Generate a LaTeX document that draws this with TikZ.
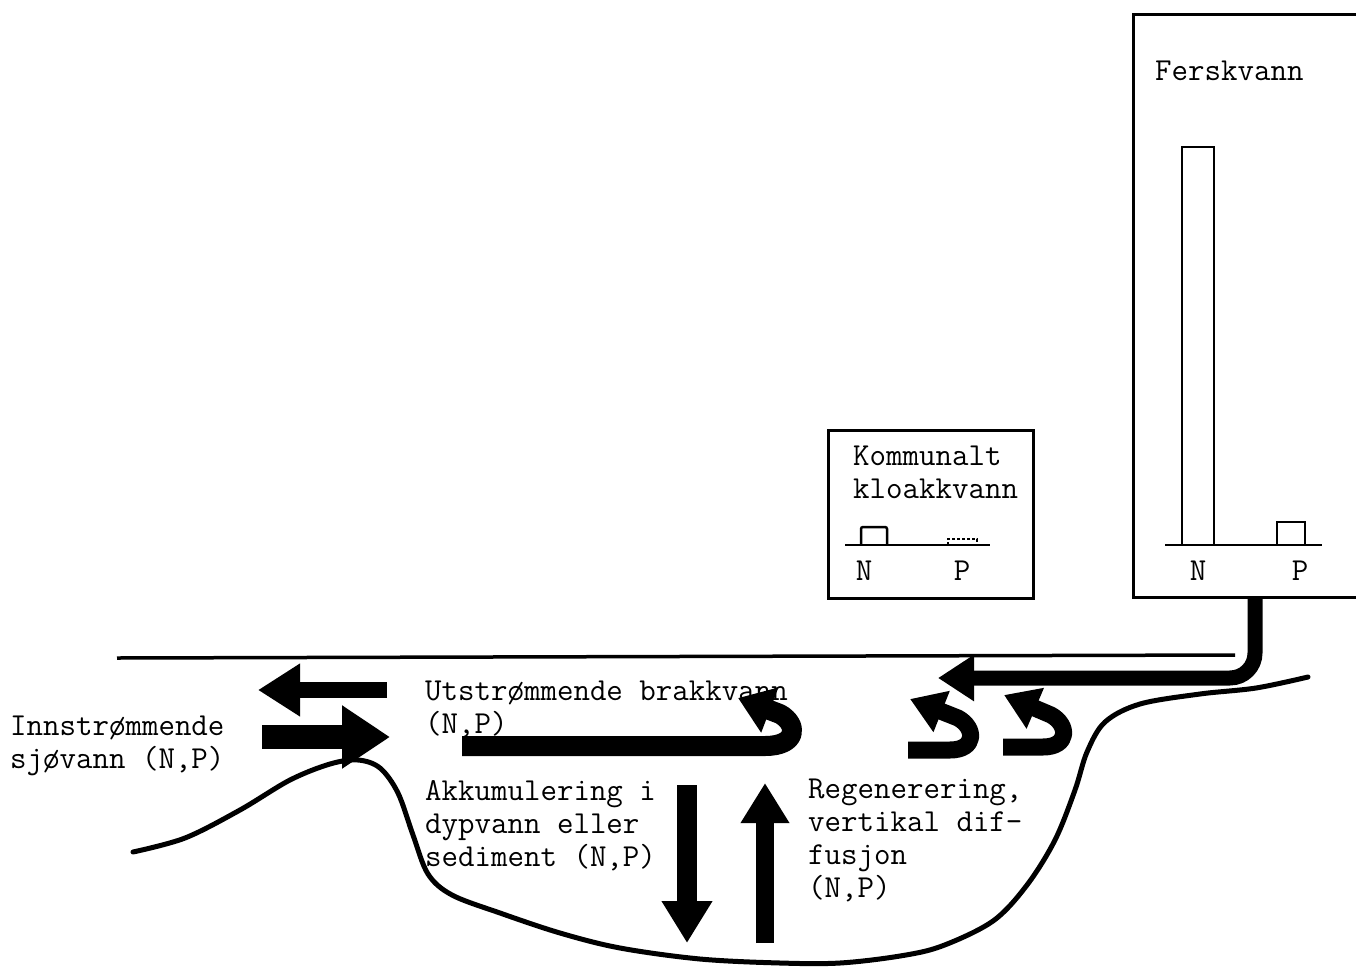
\documentclass[tikz,border=0pt]{standalone}
\usetikzlibrary{arrows.meta}
\begin{document}
\begin{tikzpicture}[x=1pt,y=-1pt,
  txt/.style={font=\ttfamily\fontsize{32}{33}\selectfont, align=left, anchor=base west, inner sep=0pt},
  lbl/.style={font=\ttfamily\fontsize{32}{33}\selectfont, anchor=base, inner sep=0pt},
  frame/.style={line width=3pt},
  bar/.style={line width=2.5pt},
  shore/.style={line width=5pt, line cap=round, line join=round},
  flow/.style={line width=#1, line join=round}
]
\useasboundingbox (0,0) rectangle (1356,966);

% Ferskvann box
\draw[frame] (1380,597) -- (1133,597) -- (1133,15) -- (1380,15);
\node[txt] (fersk) at (1155,80) {Ferskvann};
\draw[bar] (1182,545) -- (1182,147) -- (1214,147) -- (1214,545);
\draw[bar] (1165,545) -- (1322,545);
\draw[bar] (1277,545) -- (1277,522) -- (1305,522) -- (1305,545);
\node[lbl] (fN) at (1198,580) {N};
\node[lbl] (fP) at (1300,580) {P};

% Kommunalt box
\draw[frame] (828,430) rectangle (1033,598);
\node[txt] (kom) at (853,498) {Kommunalt\\kloakkvann};
\draw[bar] (845,545) -- (990,545);
\draw[bar, rounded corners=2pt] (861,545) -- (861,527) -- (887,527) -- (887,545);
\draw[line width=1.8pt, densely dashed] (948,545) -- (948,539) -- (977,539) -- (977,545);
\node[lbl] (kN) at (864,580) {N};
\node[lbl] (kP) at (962,580) {P};

% water surface
\draw[line width=3.5pt] (117,658) -- (1235,655);

% shore
\draw[shore] plot[smooth, tension=0.55] coordinates {
 (133,852) (185,838) (240,810) (290,780) (330,764) (358,760) (380,768)
 (398,793) (413,835) (428,874) (452,895) (500,913) (560,933) (620,948)
 (700,959) (780,963) (840,963) (900,956) (942,946) (993,921) (1027,885)
 (1055,840) (1075,790) (1087,752) (1105,722) (1140,704) (1200,694)
 (1256,688) (1308,677)};

% exchange with the sea
\draw[flow=16pt, -{Triangle[width=50pt,length=42pt]}] (387,690) -- (258,690);
\draw[flow=24pt, -{Triangle[width=60pt,length=48pt]}] (262,737) -- (390,737);

% brackish outflow loop
\draw[flow=20pt, -{Triangle[width=46pt,length=34pt]}]
  (462,746) -- (765,746) .. controls (798,746) and (798,724) .. (780,714) -- (738,698);

% freshwater inflow
\draw[flow=15pt, rounded corners=25pt, -{Triangle[width=44pt,length=36pt]}]
  (1255,597) -- (1255,678) -- (938,678);

% small return loops
\draw[flow=17pt, -{Triangle[width=42pt,length=34pt]}]
  (908,750) -- (950,750) .. controls (976,750) and (976,728) .. (958,718) -- (910,699);
\draw[flow=17pt, -{Triangle[width=42pt,length=34pt]}]
  (1003,747) -- (1043,747) .. controls (1069,747) and (1069,725) .. (1051,715) -- (1004,695);

% vertical fluxes
\draw[flow=20pt, -{Triangle[width=48pt,length=42pt]}] (687,785) -- (687,943);
\draw[flow=18pt, -{Triangle[width=46pt,length=40pt]}] (765,943) -- (765,783);

% labels
\node[txt] (ut) at (425,733) {Utstrømmende brakkvann\\(N,P)};
\node[txt] (inn) at (10,768) {Innstrømmende\\sjøvann (N,P)};
\node[txt] (akk) at (425,866) {Akkumulering i\\dypvann eller\\sediment (N,P)};
\node[txt] (reg) at (808,897) {Regenerering,\\vertikal dif-\\fusjon\\(N,P)};
\end{tikzpicture}
\end{document}
